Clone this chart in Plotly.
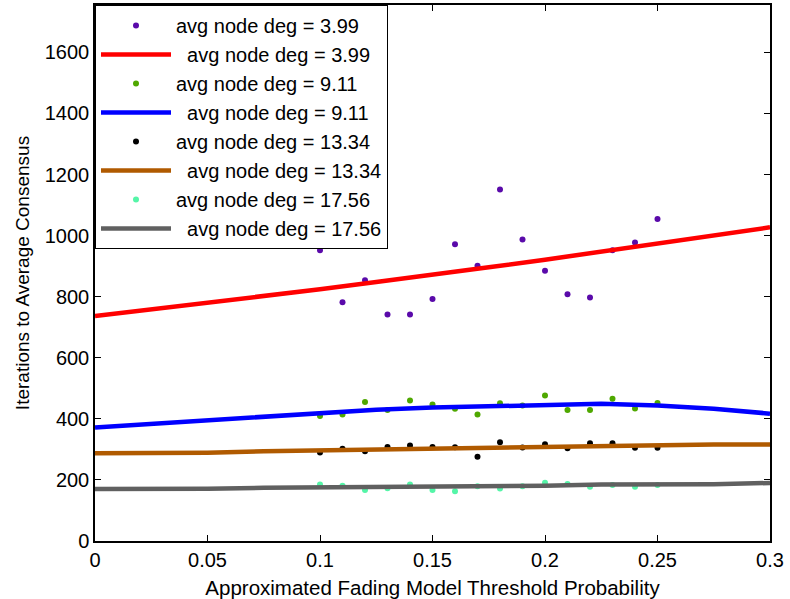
import plotly.graph_objects as go

# scatter data (threshold probability vs iterations)
x_pts = [0.10, 0.11, 0.12, 0.13, 0.14, 0.15, 0.16, 0.17, 0.18, 0.19,
         0.20, 0.21, 0.22, 0.23, 0.24, 0.25]
deg399_pts = [952, 782, 854, 742, 742, 792, 972, 901, 1151, 987,
              885, 808, 797, 952, 977, 1054]
deg911_pts = [409, 414, 455, 429, 460, 447, 433, 414, 451, 444,
              476, 429, 429, 466, 434, 452]
deg1334_pts = [290, 302, 294, 308, 313, 308, 307, 276, 323, 306,
               317, 304, 320, 320, 305, 305]
deg1756_pts = [185, 181, 167, 173, 185, 167, 163, 179, 172, 179,
               191, 187, 178, 183, 178, 183]

# fitted curves, read at regular x positions
x_fit = [0, 0.025, 0.05, 0.075, 0.1, 0.125, 0.15, 0.175, 0.2, 0.225, 0.25, 0.275, 0.3]
deg399_fit = [737, 758, 780, 802, 824, 848, 871, 896, 921, 947, 973, 1000, 1027]
deg911_fit = [372, 384, 396, 409, 421, 430, 437, 442, 446, 449, 444, 433, 417]
deg1334_fit = [287, 288, 289, 294, 297, 300, 304, 307, 309, 311, 313, 316, 316]
deg1756_fit = [170, 170, 171, 174, 175, 177, 180, 180, 181, 185, 185, 186, 190]

labels = ["avg node deg = 3.99", "avg node deg = 9.11",
          "avg node deg = 13.34", "avg node deg = 17.56"]
pt_colors = ["#5A0AAA", "#4FA800", "#000000", "#55F5A8"]
line_colors = ["#FF0000", "#0000FF", "#B05A00", "#606060"]

x_ticks = [0, 0.05, 0.1, 0.15, 0.2, 0.25, 0.3]
x_ticktext = ["0", "0.05", "0.1", "0.15", "0.2", "0.25", "0.3"]
y_ticks = [0, 200, 400, 600, 800, 1000, 1200, 1400, 1600]

pts = [deg399_pts, deg911_pts, deg1334_pts, deg1756_pts]
fits = [deg399_fit, deg911_fit, deg1334_fit, deg1756_fit]

fig = go.Figure()
for i in range(4):
    fig.add_trace(go.Scatter(
        x=x_pts, y=pts[i], mode="markers", name=labels[i],
        legendgroup=f"p{i}",
        marker=dict(color=pt_colors[i], size=6, line=dict(width=0)),
    ))
    fig.add_trace(go.Scatter(
        x=x_fit, y=fits[i], mode="lines", name="\u00a0\u00a0" + labels[i],
        legendgroup=f"l{i}",
        line=dict(color=line_colors[i], width=4.5),
    ))

font = "Liberation Sans, Arial, sans-serif"
fig.update_layout(
    width=790, height=599,
    margin=dict(l=95, r=20, t=5, b=58),
    paper_bgcolor="white", plot_bgcolor="white",
    font=dict(family=font, size=20, color="black"),
    showlegend=True,
    legend=dict(
        x=0, y=1, xanchor="left", yanchor="top",
        bgcolor="white", bordercolor="black", borderwidth=1,
        font=dict(size=20, family=font),
        tracegroupgap=0, traceorder="grouped",
        itemwidth=70,
    ),
    xaxis=dict(
        range=[0, 0.3], tickvals=x_ticks, ticktext=x_ticktext,
        ticks="inside", ticklen=6, tickcolor="black",
        showline=True, linecolor="black", linewidth=1.5, mirror="ticks",
        showgrid=False, zeroline=False, automargin=False,
        title=dict(text="Approximated Fading Model Threshold Probability",
                   font=dict(size=20.5), standoff=15),
        tickfont=dict(size=20),
    ),
    yaxis=dict(
        range=[0, 1755], tickvals=y_ticks,
        ticks="inside", ticklen=6, tickcolor="black",
        showline=True, linecolor="black", linewidth=1.5, mirror="ticks",
        showgrid=False, zeroline=False, automargin=False,
        title=dict(text="Iterations to Average Consensus",
                   font=dict(size=19), standoff=10),
        tickfont=dict(size=20),
    ),
)

fig.write_html("out.html")
